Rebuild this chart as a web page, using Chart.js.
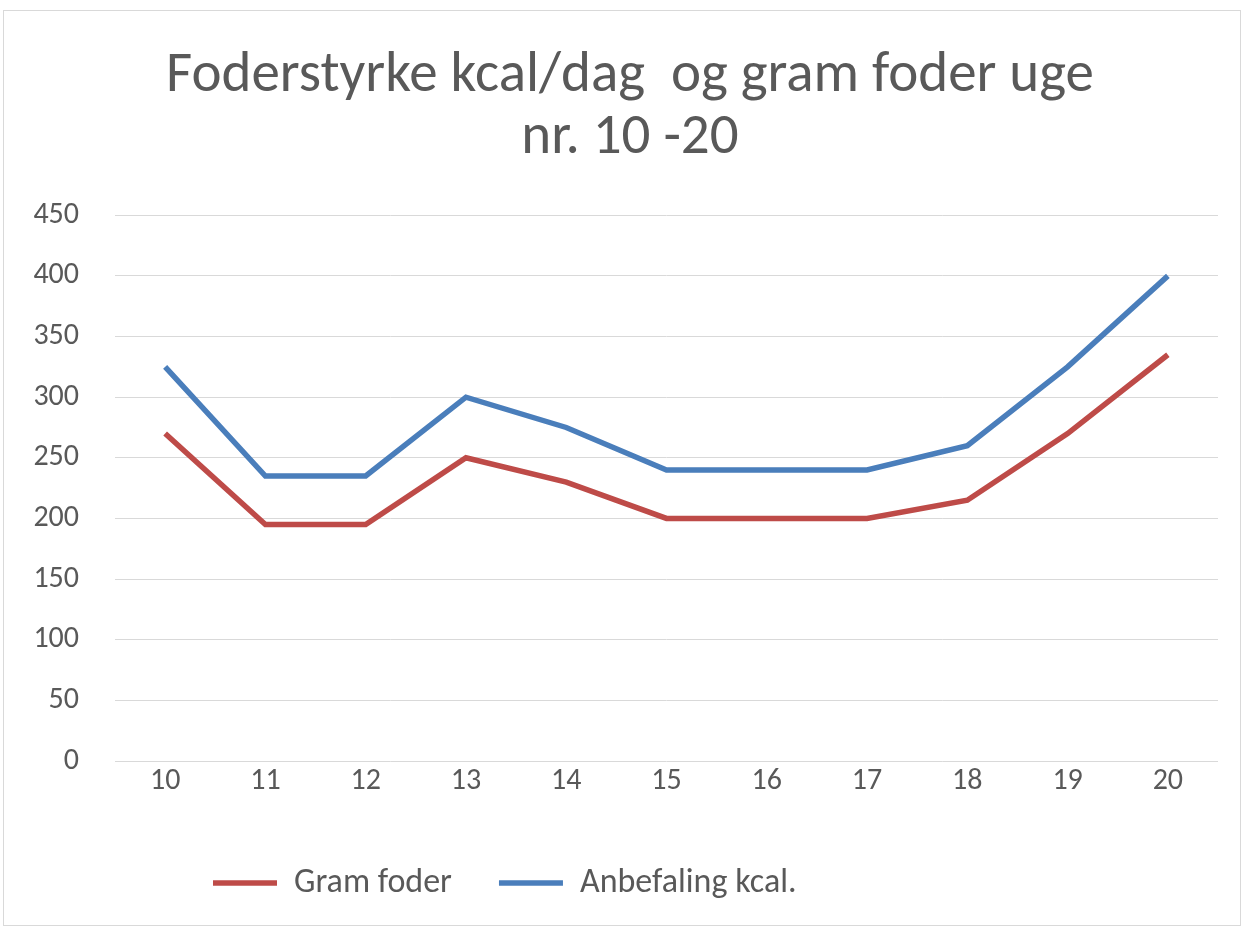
<!DOCTYPE html>
<html>
<head>
<meta charset="utf-8">
<script src="https://cdn.jsdelivr.net/npm/chart.js@4.4.1/dist/chart.umd.min.js"></script>
<style>
  body { margin: 0; background: #fff; }
  #wrap { position: relative; width: 1250px; height: 929px; }
  #frame { position: absolute; left: 3px; top: 10px; width: 1236px; height: 914px; border: 1px solid #d9d9d9; pointer-events: none; }
</style>
</head>
<body>
<div id="wrap">
  <canvas id="myChart" width="1250" height="929"></canvas>
  <div id="frame"></div>
</div>
<script>
// uge nr.
const weeks = ['10', '11', '12', '13', '14', '15', '16', '17', '18', '19', '20'];
const gramFoder = [270, 195, 195, 250, 230, 200, 200, 200, 215, 270, 335];
const anbefalingKcal = [325, 235, 235, 300, 275, 240, 240, 240, 260, 325, 400];
const titleLines = ['Foderstyrke kcal/dag  og gram foder uge', 'nr. 10 -20'];

const textColor = '#595959';
const fontFam = 'Carlito, Lato, "Open Sans", sans-serif';

// legend sits left of centre and a bit lower in the original,
// title is centred on the whole frame
const shiftBoxes = {
  id: 'shiftBoxes',
  afterLayout(chart) {
    const lg = chart.legend;
    lg.left = 166;
    lg.top += 18;
    lg.bottom += 18;
    const t = chart.titleBlock;
    t.left += 21;
    t.right += 21;
  }
};

const ctx = document.getElementById('myChart').getContext('2d');
const myChart = new Chart(ctx, {
  type: 'line',
  data: {
    labels: weeks,
    datasets: [{
      label: 'Gram foder',
      data: gramFoder,
      borderColor: '#be4b48',
      backgroundColor: '#be4b48',
      borderWidth: 5.5,
      pointRadius: 0,
      tension: 0
    }, {
      label: 'Anbefaling kcal.',
      data: anbefalingKcal,
      borderColor: '#4a7ebb',
      backgroundColor: '#4a7ebb',
      borderWidth: 5.5,
      pointRadius: 0,
      tension: 0
    }]
  },
  options: {
    responsive: false,
    animation: false,
    layout: { padding: { left: 0, right: 32, top: 0, bottom: 37 } },
    plugins: {
      title: {
        display: true,
        text: titleLines,
        color: textColor,
        font: { family: fontFam, size: 57, weight: 'normal', lineHeight: 1.09 },
        padding: { top: 46, bottom: 45 }
      },
      legend: {
        position: 'bottom',
        align: 'start',
        labels: {
          color: textColor,
          font: { family: fontFam, size: 34 },
          usePointStyle: true,
          pointStyle: 'line',
          pointStyleWidth: 64,
          padding: 47
        }
      },
      tooltip: { enabled: false }
    },
    scales: {
      x: {
        offset: true,
        grid: { display: false, drawTicks: false },
        border: { display: false },
        ticks: { color: textColor, font: { family: fontFam, size: 30 }, padding: 2 }
      },
      y: {
        min: 0,
        max: 450,
        afterFit(scale) { scale.width = 115; },
        grid: { color: '#d9d9d9', lineWidth: 1, drawTicks: false },
        border: { display: false },
        ticks: { stepSize: 50, color: textColor, font: { family: fontFam, size: 30 }, padding: 36 }
      }
    }
  },
  plugins: [shiftBoxes]
});
</script>
</body>
</html>
